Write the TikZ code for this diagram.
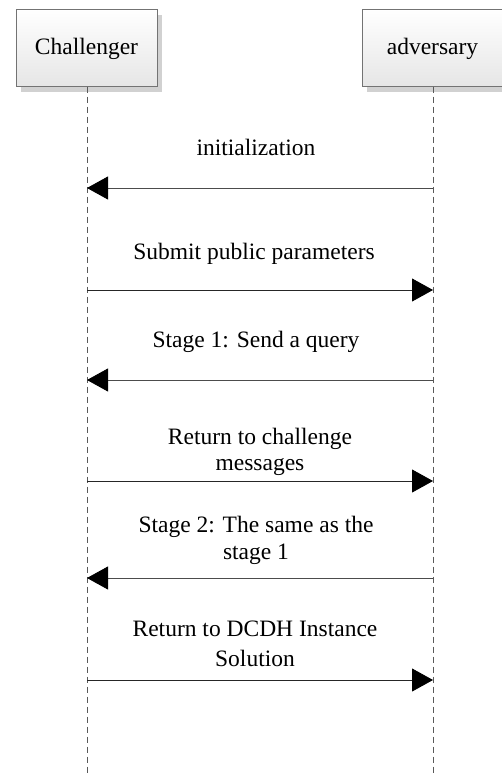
\documentclass[tikz,border=0pt]{standalone}
\usepackage{fontspec}
\setmainfont{Liberation Serif}
\newfontfamily\labelfont{Liberation Serif}
\usetikzlibrary{arrows.meta}
\tikzset{
  actor/.style={draw=black!55, line width=0.6pt, top color=white, bottom color=black!10,
    minimum width=141pt, minimum height=77pt, inner sep=0pt, anchor=north west},
  actorshadow/.style={fill=black!18, draw=none},
  lifeline/.style={draw=black!65, line width=0.7pt, dash pattern=on 6pt off 4pt},
  msg/.style={draw=black!85, line width=0.8pt, -{Triangle[length=21pt,width=23pt,color=black]}},
  msgback/.style={msg, draw=black!70},
  lbl/.style={font=\labelfont\fontsize{23.5}{26}\selectfont, anchor=base, inner sep=0pt}
}
\begin{document}
\begin{tikzpicture}[x=1pt,y=-1pt]
  \useasboundingbox (0,0) rectangle (502,776);
  \clip (0,0) rectangle (502,776);

  % participant boxes with drop shadows
  \fill[actorshadow] (21,15) rectangle (162,92);
  \fill[actorshadow] (367,15) rectangle (508,92);
  \node[actor] (ch) at (16,9) {};
  \node[actor] (ad) at (362,9) {};
  \node[lbl] (chl) at (86.5,55) {Challenger};
  \node[lbl] (adl) at (432.5,55) {adversary};

  % lifelines
  \coordinate (chend) at (87,776);
  \coordinate (adend) at (433,776);
  \draw[lifeline] (ch.south -| chend) -- (chend);
  \draw[lifeline] (ad.south -| adend) -- (adend);

  % message anchor points on the lifelines
  \foreach \n/\y in {1/188, 2/290, 3/380, 4/481, 5/578, 6/680} {
    \coordinate (c\n) at (87,\y);
    \coordinate (a\n) at (433,\y);
  }

  % messages
  \draw[msgback] (a1) -- (c1);
  \node[lbl] (t1) at (256,155) {initialization};

  \draw[msg] (c2) -- (a2);
  \node[lbl] (t2) at (254,259) {Submit public parameters};

  \draw[msgback] (a3) -- (c3);
  \node[lbl] (t3) at (256,347) {Stage 1: Send a query};

  \draw[msg] (c4) -- (a4);
  \node[lbl] (t4a) at (260,444) {Return to challenge};
  \node[lbl] (t4b) at (260,470) {messages};

  \draw[msgback] (a5) -- (c5);
  \node[lbl] (t5a) at (256,532) {Stage 2: The same as the};
  \node[lbl] (t5b) at (256,559) {stage 1};

  \draw[msg] (c6) -- (a6);
  \node[lbl] (t6a) at (255,636) {Return to DCDH Instance};
  \node[lbl] (t6b) at (255,666) {Solution};
\end{tikzpicture}
\end{document}
